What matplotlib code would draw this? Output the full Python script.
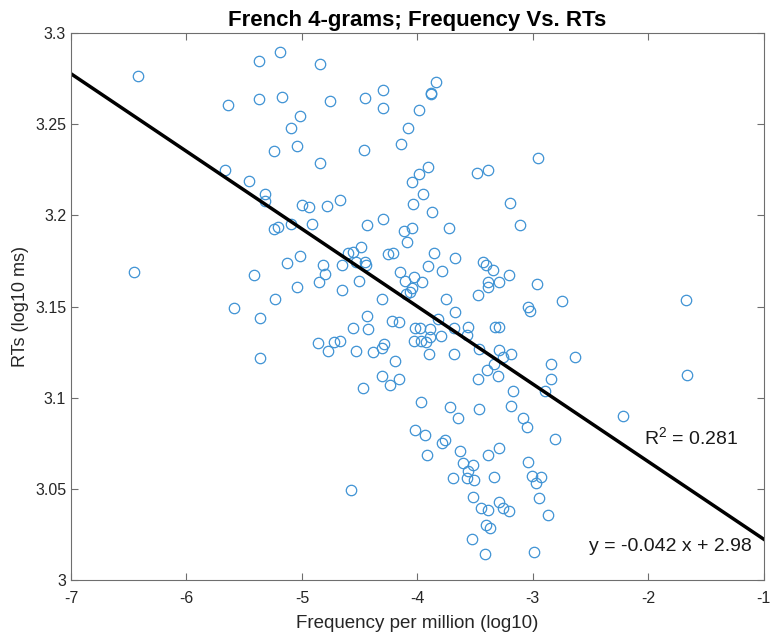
import matplotlib
matplotlib.use('Agg')
import matplotlib.pyplot as plt

# datos
freq = [-6.418, -5.372, -5.193, -5.637, -5.375, -5.170, -5.245, -5.666, -5.459, -5.317,
        -5.317, -4.841, -4.755, -4.452, -4.294, -4.294, -3.842, -3.882, -3.885, -3.986,
        -4.081, -4.145, -5.020, -5.098, -5.043, -4.847, -4.461, -3.907, -3.982, -4.046,
        -3.487, -3.392, -3.951, -4.038, -3.870, -3.202, -5.003, -4.942, -4.784, -4.666,
        -4.294, -2.951, -6.453, -5.412, -5.585, -5.360, -5.366, -5.234, -5.242, -5.208,
        -5.092, -4.914, -4.435, -4.113, -4.049, -4.092, -3.730, -3.107, -5.014, -5.127,
        -5.041, -4.856, -4.798, -4.819, -4.652, -4.655, -4.597, -4.559, -4.484, -4.530,
        -4.452, -4.444, -4.508, -4.254, -4.212, -4.307, -4.150, -4.107, -4.032, -3.963,
        -4.049, -4.063, -4.098, -3.905, -3.853, -3.790, -3.672, -3.749, -3.674, -3.824,
        -3.430, -3.406, -3.343, -3.205, -3.392, -3.289, -3.386, -3.479, -4.438, -4.559,
        -4.430, -4.222, -4.158, -4.020, -3.977, -3.890, -3.686, -3.559, -3.574, -3.795,
        -3.332, -3.289, -4.032, -3.968, -3.925, -3.890, -4.862, -4.718, -4.666, -4.770,
        -4.528, -4.381, -4.307, -4.288, -4.193, -3.899, -3.683, -3.464, -3.291, -3.262,
        -3.185, -3.334, -3.398, -3.300, -3.479, -4.304, -4.239, -4.161, -4.474, -3.173,
        -3.965, -3.715, -3.470, -3.185, -2.968, -3.046, -3.026, -2.744, -1.677, -2.839,
        -2.637, -2.844, -2.893, -1.663, -3.651, -4.020, -3.934, -3.790, -3.758, -3.914,
        -3.634, -3.392, -3.289, -3.605, -3.522, -3.559, -3.568, -3.695, -3.507, -3.340,
        -4.577, -3.516, -3.453, -3.392, -3.291, -3.262, -3.207, -3.404, -3.375, -3.531,
        -3.418, -3.084, -3.049, -2.804, -2.219, -3.043, -3.009, -2.925, -2.974, -2.946,
        -2.868, -2.992]
rts = [3.2762, 3.2848, 3.2894, 3.2607, 3.2638, 3.2652, 3.2351, 3.2249, 3.2190, 3.2117,
       3.2080, 3.2828, 3.2629, 3.2643, 3.2687, 3.2587, 3.2731, 3.2671, 3.2668, 3.2576,
       3.2482, 3.2393, 3.2545, 3.2481, 3.2382, 3.2290, 3.2358, 3.2267, 3.2228, 3.2184,
       3.2232, 3.2247, 3.2119, 3.2064, 3.2018, 3.2069, 3.2057, 3.2047, 3.2054, 3.2086,
       3.1980, 3.2316, 3.1689, 3.1674, 3.1493, 3.1440, 3.1218, 3.1541, 3.1927, 3.1939,
       3.1954, 3.1954, 3.1949, 3.1917, 3.1931, 3.1852, 3.1931, 3.1949, 3.1780, 3.1739,
       3.1607, 3.1638, 3.1678, 3.1726, 3.1726, 3.1592, 3.1797, 3.1802, 3.1826, 3.1744,
       3.1744, 3.1726, 3.1642, 3.1790, 3.1795, 3.1541, 3.1689, 3.1643, 3.1665, 3.1634,
       3.1605, 3.1583, 3.1570, 3.1724, 3.1793, 3.1698, 3.1766, 3.1541, 3.1470, 3.1433,
       3.1747, 3.1729, 3.1702, 3.1674, 3.1638, 3.1638, 3.1610, 3.1565, 3.1450, 3.1382,
       3.1378, 3.1422, 3.1418, 3.1385, 3.1385, 3.1377, 3.1382, 3.1388, 3.1345, 3.1340,
       3.1391, 3.1391, 3.1314, 3.1312, 3.1305, 3.1333, 3.1303, 3.1305, 3.1312, 3.1258,
       3.1256, 3.1250, 3.1276, 3.1296, 3.1203, 3.1241, 3.1241, 3.1268, 3.1263, 3.1223,
       3.1241, 3.1186, 3.1153, 3.1121, 3.1104, 3.1122, 3.1071, 3.1104, 3.1053, 3.1038,
       3.0976, 3.0949, 3.0940, 3.0956, 3.1627, 3.1501, 3.1477, 3.1530, 3.1537, 3.1186,
       3.1225, 3.1102, 3.1038, 3.1126, 3.0888, 3.0824, 3.0797, 3.0755, 3.0769, 3.0687,
       3.0711, 3.0687, 3.0727, 3.0642, 3.0632, 3.0599, 3.0559, 3.0559, 3.0550, 3.0565,
       3.0497, 3.0459, 3.0397, 3.0386, 3.0428, 3.0398, 3.0380, 3.0302, 3.0289, 3.0228,
       3.0143, 3.0888, 3.0842, 3.0773, 3.0901, 3.0647, 3.0572, 3.0568, 3.0532, 3.0453,
       3.0358, 3.0155]

# recta de regresion (y = a x + b)
pendiente = -0.04253
intercepto = 2.980
r2_txt = '0.281'
eq_txt = 'y = -0.042 x + 2.98'

xticks = [-7, -6, -5, -4, -3, -2, -1]
yticks = [3.0, 3.05, 3.1, 3.15, 3.2, 3.25, 3.3]
yticklabels = ['3', '3.05', '3.1', '3.15', '3.2', '3.25', '3.3']

plt.rcParams['font.family'] = ['Liberation Sans', 'DejaVu Sans']
plt.rcParams['mathtext.fontset'] = 'custom'
plt.rcParams['mathtext.rm'] = 'Liberation Sans'

fig = plt.figure(figsize=(7.7, 6.35), dpi=100)
ax = fig.add_axes([0.0922, 0.0861, 0.8997, 0.8618])

ax.plot(freq, rts, linestyle='none', marker='o', markersize=7.5,
        markerfacecolor='none', markeredgecolor='#3f93d4', markeredgewidth=0.9)

xl = [-7, -1]
ax.plot(xl, [pendiente * v + intercepto for v in xl], color='black', linewidth=2.5)

ax.text(-1.22, 3.078, r'R$^2$ = ' + r2_txt, fontsize=14, ha='right', va='center', color='#1a1a1a')
ax.text(-1.10, 3.0188, eq_txt, fontsize=14, ha='right', va='center', color='#1a1a1a')

ax.set_xlim(-7, -1)
ax.set_ylim(3.0, 3.3)
ax.set_xticks(xticks)
ax.set_xticklabels([str(t) for t in xticks])
ax.set_yticks(yticks)
ax.set_yticklabels(yticklabels)
ax.tick_params(direction='in', length=5, width=0.8, colors='#6e6e6e', labelcolor='#262626',
               labelsize=11.5, top=True, right=True)
ax.tick_params(axis='x', pad=8)
for s in ax.spines.values():
    s.set_color('#6e6e6e')
    s.set_linewidth(0.8)

ax.set_title('French 4-grams; Frequency Vs. RTs', fontsize=16, fontweight='bold', pad=5)
ax.set_xlabel('Frequency per million (log10)', fontsize=13.5, color='#262626', labelpad=6)
ax.set_ylabel('RTs (log10 ms)', fontsize=13, color='#262626')

fig.savefig('out.png', dpi=100)
